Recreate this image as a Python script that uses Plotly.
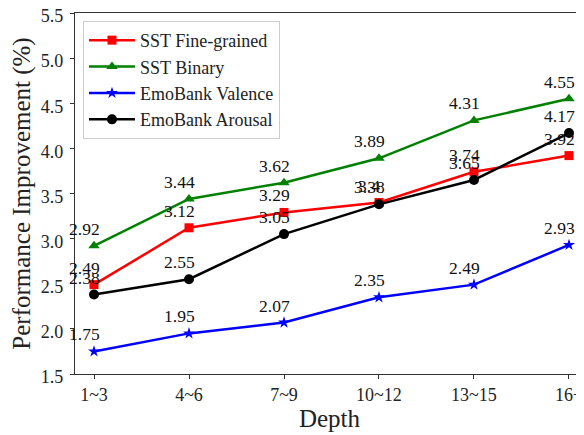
import plotly.graph_objects as go

depth_labels = ["1~3", "4~6", "7~9", "10~12", "13~15", "16+"]
sst_fine = [2.49, 3.12, 3.29, 3.4, 3.74, 3.92]
sst_binary = [2.92, 3.44, 3.62, 3.89, 4.31, 4.55]
emo_valence = [1.75, 1.95, 2.07, 2.35, 2.49, 2.93]
emo_arousal = [2.38, 2.55, 3.05, 3.38, 3.65, 4.17]
y_ticks = [1.5, 2.0, 2.5, 3.0, 3.5, 4.0, 4.5, 5.0, 5.5]

series = [
    ("SST Fine-grained", sst_fine, "#ff0000", "square", 9),
    ("SST Binary", sst_binary, "#008000", "triangle-up", 10),
    ("EmoBank Valence", emo_valence, "#0000ff", "star", 9),
    ("EmoBank Arousal", emo_arousal, "#000000", "circle", 10),
]

FONT = "Liberation Serif"
xs = list(range(len(depth_labels)))

fig = go.Figure()
annotations = []
for i, (name, vals, color, sym, size) in enumerate(series):
    fig.add_trace(go.Scatter(
        x=xs, y=vals, mode="lines+markers", name=name,
        line=dict(color=color, width=2.5),
        marker=dict(symbol=sym, size=size, color=color, line=dict(width=0)),
    ))
    for x, v in zip(xs, vals):
        annotations.append(dict(
            x=x - 0.1, y=v + 0.1, xref="x", yref="y", text=f"{v:g}",
            showarrow=False, xanchor="center", yanchor="bottom",
            font=dict(family=FONT, size=17.5, color="#111111"), yshift=-4,
        ))

# page body has an 8px default margin, so the figure is sized to fit the window
fig.update_layout(
    width=576, height=427,
    margin=dict(l=67, r=0, t=5, b=61, autoexpand=False),
    paper_bgcolor="white", plot_bgcolor="white",
    font=dict(family=FONT, color="black"),
    showlegend=True,
    legend=dict(
        x=0.0157, y=0.978, xanchor="left", yanchor="top",
        bgcolor="rgba(255,255,255,0.8)", bordercolor="#cccccc", borderwidth=1,
        font=dict(family=FONT, size=18, color="#222222"),
        itemwidth=46,
    ),
    annotations=annotations,
)
fig.update_xaxes(
    range=[-0.2, 5.158], tickmode="array", tickvals=xs, ticktext=depth_labels,
    showgrid=False, zeroline=False, showline=True, linecolor="#333333", linewidth=1.2,
    mirror=True, ticks="outside", ticklen=4, tickcolor="#333333",
    tickfont=dict(family=FONT, size=18, color="#222222"),
    ticklabeloverflow="allow",
    title=dict(text="Depth", font=dict(family=FONT, size=25, color="#222222"), standoff=5),
    automargin=False,
)
fig.update_yaxes(
    range=[1.5, 5.5], tickmode="array", tickvals=y_ticks,
    ticktext=[f"{t:.1f}" for t in y_ticks],
    showgrid=False, zeroline=False, showline=True, linecolor="#333333", linewidth=1.2,
    ticks="outside", ticklen=4, tickcolor="#333333",
    tickfont=dict(family=FONT, size=18, color="#222222"),
    ticklabeloverflow="allow", ticklabelshift=3, ticklabelstandoff=3,
    title=dict(text="Performance Improvement (%)", font=dict(family=FONT, size=25, color="#222222"), standoff=6),
    automargin=False,
)

fig.write_html("out.html")
